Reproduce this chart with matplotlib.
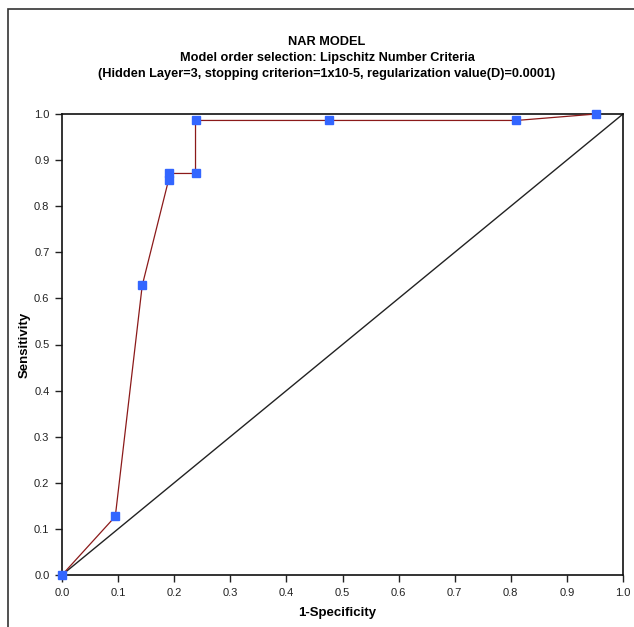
import matplotlib
matplotlib.use("Agg")
import matplotlib.pyplot as plt
from matplotlib.patches import Rectangle

# Data
fpr = [0.0, 0.095, 0.143, 0.190, 0.190, 0.238, 0.238, 0.476, 0.810, 0.952]
tpr = [0.0, 0.127, 0.628, 0.857, 0.871, 0.871, 0.986, 0.986, 0.986, 1.0]
diag = [0.0, 1.0]
ticks = [0.0, 0.1, 0.2, 0.3, 0.4, 0.5, 0.6, 0.7, 0.8, 0.9, 1.0]
title_lines = ["NAR MODEL",
               "Model order selection: Lipschitz Number Criteria",
               "(Hidden Layer=3, stopping criterion=1x10-5, regularization value(D)=0.0001)"]

plt.rcParams['font.family'] = ['Liberation Sans', 'DejaVu Sans']

W, H = 634, 627
fig = plt.figure(figsize=(W / 100, H / 100), dpi=100)

# axes box in pixel coords: left 62, right 623, top 114, bottom 575
ax = fig.add_axes([62 / W, 1 - 575 / H, (623 - 62) / W, (575 - 114) / H])

# outer chart frame (cropped at right and bottom like the original)
fig.patches.append(Rectangle((8 / W, -0.05), 1.1, 1 - 9 / H + 0.05,
                             transform=fig.transFigure, fill=False,
                             edgecolor='#333333', linewidth=1.2))

ax.plot(diag, diag, color='#222222', linewidth=1.0, zorder=2)
ax.plot(fpr, tpr, color='#8b1a1a', linewidth=0.9, marker='s', markersize=6,
        markerfacecolor='#3366ff', markeredgecolor='#3366ff', zorder=3,
        clip_on=False)

ax.set_xlim(0, 1)
ax.set_ylim(0, 1)
ax.set_xticks(ticks)
ax.set_yticks(ticks)
ax.set_xticklabels([f"{t:.1f}" for t in ticks])
ax.set_yticklabels([f"{t:.1f}" for t in ticks])
ax.tick_params(direction='out', length=5, width=1, labelsize=8,
               colors='#222222', pad=4)
for s in ax.spines.values():
    s.set_linewidth(1.2)
    s.set_color('#111111')

fig.text(337 / W, 1 - 613 / H, '1-Specificity', ha='center', va='center',
         fontsize=9.5, fontweight='bold')
fig.text(25 / W, 1 - 345 / H, 'Sensitivity', ha='center', va='center',
         fontsize=9.5, fontweight='bold', rotation=90)

for line, yp in zip(title_lines, [42, 58, 73.5]):
    fig.text(327 / W, 1 - yp / H, line, ha='center', va='center',
             fontsize=9.2, fontweight='bold')

fig.savefig('out.png', dpi=100)
